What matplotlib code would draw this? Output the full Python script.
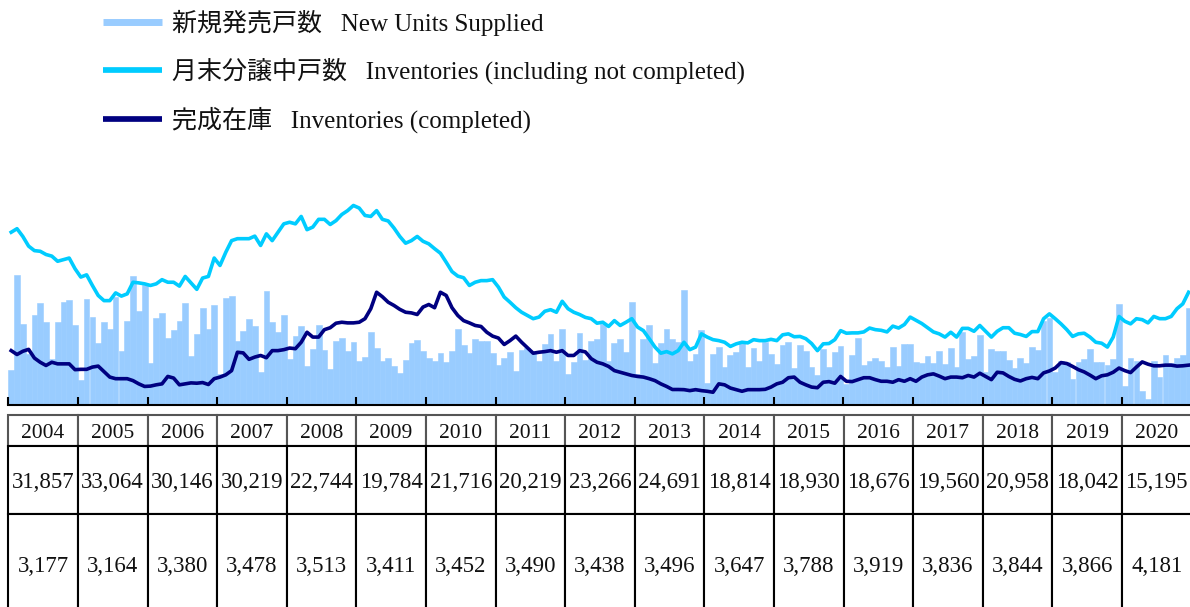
import matplotlib.pyplot as plt
from matplotlib.lines import Line2D
from matplotlib.transforms import Affine2D
import numpy as np

plt.rcParams['font.family'] = ['Liberation Serif', 'Noto Sans CJK JP']

years = list(range(2004, 2021))

# 新規発売戸数 (monthly), 2004-01 .. 2020-12
new_units = [
    1080, 4000, 2500, 1580, 2780, 3140, 2570, 1420, 2570, 3190, 3250, 2470,  # 2004
    770, 3260, 2710, 1920, 2570, 2350, 3330, 1650, 2600, 3970, 2890, 3690,   # 2005
    1280, 2680, 2850, 2060, 2320, 2600, 3160, 1500, 2180, 3000, 2340, 3070,  # 2006
    950, 3290, 3350, 1960, 2290, 2660, 2440, 1020, 3520, 2550, 2240, 2790,   # 2007
    1420, 2130, 2440, 1190, 1710, 2470, 1700, 1090, 1960, 2070, 1650, 1930,  # 2008
    1340, 1470, 2260, 1740, 1340, 1450, 1180, 990, 1390, 1920, 1990, 1670,   # 2009
    1440, 1360, 1610, 1320, 1670, 2350, 1830, 1610, 2020, 1960, 1960, 1600,  # 2010
    1240, 1430, 1640, 1050, 1700, 1750, 1650, 1360, 1870, 2190, 1340, 2330,  # 2011
    940, 1310, 2230, 1390, 1970, 2020, 2500, 1340, 1900, 2020, 1620, 3170,   # 2012
    940, 2040, 2450, 1280, 1910, 2330, 2040, 1930, 3560, 1340, 1570, 2320,   # 2013
    660, 1570, 1780, 1160, 1520, 1620, 1910, 1160, 1760, 1360, 1930, 1570,   # 2014
    1260, 1830, 1940, 1130, 1840, 1670, 1170, 910, 1710, 1160, 1620, 1800,   # 2015
    650, 1550, 2060, 1240, 1350, 1440, 1340, 1170, 1790, 1190, 1890, 1890,   # 2016
    1330, 1300, 1490, 1300, 1650, 1250, 1750, 1160, 2260, 1400, 1500, 2170,  # 2017
    1020, 1730, 1660, 1660, 1390, 1140, 1440, 1300, 1780, 1700, 2600, 2670,  # 2018
    1000, 1360, 1330, 800, 1310, 1420, 1710, 1310, 1330, 1220, 1420, 3120,   # 2019
    570, 1450, 1360, 430, 160, 1340, 850, 1540, 1280, 1440, 1530, 3000,      # 2020
]

# 月末分譲中戸数 (inventories incl. not completed)
inventory = [
    5340, 5450, 5210, 4910, 4770, 4750, 4650, 4600, 4440, 4490, 4540, 4210,
    3950, 4020, 3690, 3380, 3220, 3220, 3460, 3360, 3430, 3790, 3770, 3740,
    3690, 3740, 3870, 3790, 3790, 3670, 3970, 3770, 3570, 3920, 3970, 4540,
    4310, 4720, 5080, 5140, 5140, 5140, 5220, 4930, 5290, 5080, 5340, 5600,
    5650, 5600, 5830, 5420, 5500, 5740, 5740, 5580, 5700, 5890, 6010, 6170,
    6090, 5860, 5830, 6010, 5740, 5690, 5470, 5210, 5000, 5080, 5210, 5060,
    4980, 4830, 4690, 4410, 4120, 3980, 3930, 3690, 3790, 3840, 3840, 3870,
    3640, 3330, 3170, 3000, 2860, 2760, 2660, 2710, 2890, 2940, 2860, 3200,
    2970, 2860, 2790, 2700, 2660, 2520, 2550, 2420, 2600, 2450, 2550, 2660,
    2400, 2290, 2040, 1780, 1590, 1640, 1570, 1670, 1930, 1700, 1780, 2190,
    2090, 2010, 1980, 1930, 1800, 1880, 1930, 1910, 2010, 1980, 1980, 2020,
    1980, 2160, 2190, 2100, 2110, 2040, 1890, 1670, 1880, 1890, 2010, 2290,
    2210, 2220, 2220, 2250, 2370, 2320, 2300, 2250, 2430, 2370, 2480, 2710,
    2610, 2510, 2380, 2250, 2190, 2090, 2240, 2090, 2360, 2360, 2270, 2450,
    2270, 2090, 2270, 2380, 2380, 2210, 2170, 2110, 2260, 2260, 2660, 2810,
    2660, 2500, 2320, 2110, 2190, 2210, 2090, 1930, 1900, 1780, 2090, 2730,
    2580, 2500, 2660, 2630, 2530, 2730, 2660, 2660, 2730, 2970, 3120, 3480,
]

# 完成在庫 (inventories completed)
completed = [
    1670, 1550, 1650, 1710, 1440, 1310, 1210, 1310, 1260, 1260, 1260, 1080,
    1090, 1090, 1160, 1190, 1020, 850, 800, 800, 800, 740, 640, 560,
    570, 610, 640, 870, 820, 610, 640, 670, 660, 680, 620, 800,
    850, 920, 1050, 1620, 1600, 1400, 1470, 1520, 1450, 1670, 1670, 1700,
    1750, 1730, 1930, 2240, 2090, 2090, 2320, 2380, 2520, 2550, 2530, 2530,
    2550, 2660, 2970, 3480, 3340, 3170, 3070, 2950, 2860, 2840, 2790, 3020,
    3100, 3000, 3480, 3380, 3000, 2760, 2600, 2530, 2450, 2420, 2240, 2120,
    2060, 1860, 1980, 2120, 1930, 1760, 1590, 1620, 1640, 1670, 1620, 1670,
    1520, 1520, 1670, 1630, 1420, 1310, 1260, 1180, 1050, 1000, 950, 900,
    870, 850, 800, 740, 640, 560, 465, 465, 460, 430, 460, 430,
    410, 380, 640, 610, 510, 460, 410, 460, 460, 460, 470, 540,
    640, 690, 830, 850, 690, 610, 540, 520, 690, 710, 660, 870,
    720, 710, 770, 830, 830, 770, 720, 720, 690, 770, 720, 800,
    720, 850, 920, 950, 880, 800, 850, 850, 830, 900, 850, 970,
    870, 770, 1000, 980, 870, 780, 730, 800, 840, 800, 980, 1040,
    1130, 1300, 1270, 1180, 1080, 1010, 910, 800, 890, 920, 1000, 1130,
    1050, 990, 1160, 1320, 1250, 1200, 1200, 1220, 1220, 1190, 1200, 1220,
]

annual_supply = [31857, 33064, 30146, 30219, 22744, 19784, 21716, 20219, 23266,
                 24691, 18814, 18930, 18676, 19560, 20958, 18042, 15195]
avg_price = [3177, 3164, 3380, 3478, 3513, 3411, 3452, 3490, 3438,
             3496, 3647, 3788, 3919, 3836, 3844, 3866, 4181]

labels = ['新規発売戸数   New Units Supplied',
          '月末分譲中戸数   Inventories (including not completed)',
          '完成在庫   Inventories (completed)']

c_bar = '#99CCFF'
c_inv = '#00CCFF'
c_cmp = '#000080'

W, H = 1190, 607
fig = plt.figure(figsize=(W / 100, H / 100), dpi=100)


def fx(px):
    return px / W


def fy(py):
    return 1 - py / H


# chart area (pixel geometry)
x_left, x_right = 8.3, 1191.5
y_base = 404.5
ymax = 7000
y_top = y_base - ymax / 31.0

ax = fig.add_axes([fx(x_left), fy(y_base), fx(x_right) - fx(x_left), fy(y_top) - fy(y_base)])
n = len(new_units)
idx = np.arange(n)
ax.bar(idx, new_units, width=1.0, align='edge', color=c_bar, edgecolor=c_bar, linewidth=0.4)
ax.plot(idx + 0.5, inventory, color=c_inv, lw=2.6, solid_joinstyle='round')
ax.plot(idx + 0.5, completed, color=c_cmp, lw=2.6, solid_joinstyle='round')
ax.set_xlim(0, n)
ax.set_ylim(0, ymax)
for s in ['top', 'right', 'left']:
    ax.spines[s].set_visible(False)
ax.spines['bottom'].set_linewidth(1.5)
ax.set_xticks(np.arange(0, n + 1, 12))
ax.tick_params(axis='x', direction='in', length=6, width=1.5, labelbottom=False)
ax.set_yticks([])

# table below the chart
tax = fig.add_axes([fx(x_left), fy(612), fx(x_right) - fx(x_left), fy(415) - fy(612)])
tax.axis('off')
cell_text = [[str(y) for y in years],
             [f'{v:,}' for v in annual_supply],
             [f'{v:,}' for v in avg_price]]
tbl = tax.table(cellText=cell_text, cellLoc='center', bbox=[0, 0, 1, 1])
tbl.auto_set_font_size(False)
row_h = [31, 68, 98]
shift_down = Affine2D().translate(0, -3)
for (r, c), cell in tbl.get_celld().items():
    cell.set_height(row_h[r])
    cell.set_linewidth(1.5)
    cell.set_edgecolor('#555555' if r == 0 else 'black')
    txt = cell.get_text()
    txt.set_fontsize(15.5 if r == 0 else 16.5)
    txt.set_color('#111111')
    txt.set_transform(shift_down)

# legend at top left
leg_y = [22, 70, 119]
leg_c = [c_bar, c_inv, c_cmp]
leg_w = [5.0, 4.1, 4.1]
for lab, yy, cc, lw in zip(labels, leg_y, leg_c, leg_w):
    fig.add_artist(Line2D([fx(103), fx(162)], [fy(yy), fy(yy)], color=cc, lw=lw,
                          solid_capstyle='butt', transform=fig.transFigure))
    fig.text(fx(172), fy(yy + 1), lab, fontsize=18, va='center', ha='left', color='#111111')

fig.savefig('out.png', dpi=100)
